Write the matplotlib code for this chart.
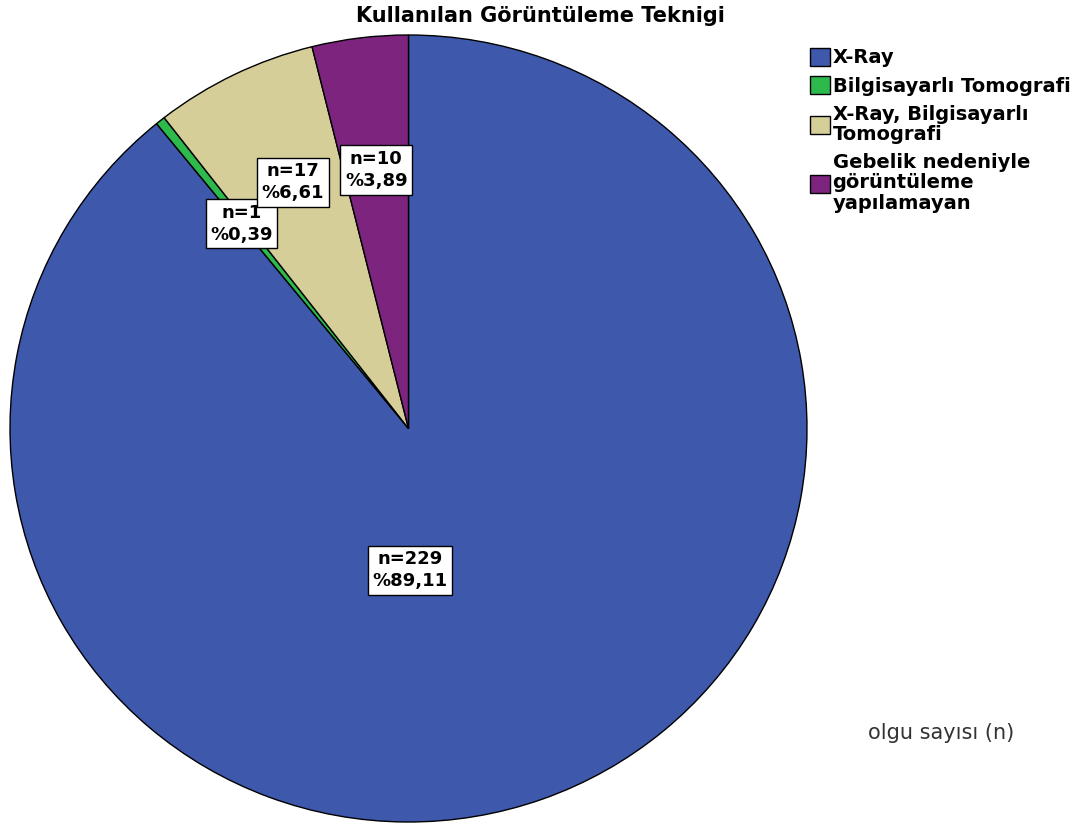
import matplotlib.pyplot as plt

plt.rcParams['font.family'] = ['DejaVu Sans']

# veri
kategoriler = ['X-Ray', 'Bilgisayarlı Tomografi', 'X-Ray, Bilgisayarlı\nTomografi',
               'Gebelik nedeniyle\ngörüntüleme\nyapılamayan']
sayilar = [229, 1, 17, 10]
yuzdeler = ['89,11', '0,39', '6,61', '3,89']
renkler = ['#3E58AC', '#2DB94B', '#D5CE98', '#7D247F']

# etiket kutularinin yeri (pasta koordinati)
etiket_yer = [(0.003, -0.36), (-0.419, 0.52), (-0.29, 0.626), (-0.081, 0.657)]

fig = plt.figure(figsize=(10.86, 8.27), dpi=100)
W, H = 1086, 827
x0, x1, y0, y1 = 10, 807, 35, 822   # pasta sinirlari (piksel)
ax = fig.add_axes([x0 / W, (H - y1) / H, (x1 - x0) / W, (y1 - y0) / H])

wedges, _ = ax.pie(sayilar, colors=renkler, startangle=90, counterclock=False,
                   radius=1, wedgeprops=dict(edgecolor='black', linewidth=1))
ax.set_xlim(-1.0, 1.0)
ax.set_ylim(-1.0, 1.0)
ax.set_aspect('auto')
ax.axis('off')

for (x, y), n, p in zip(etiket_yer, sayilar, yuzdeler):
    ax.text(x, y, 'n=%d\n%%%s' % (n, p), ha='center', va='center', fontsize=13,
            fontweight='bold', linespacing=1.3,
            bbox=dict(boxstyle='square,pad=0.25', fc='white', ec='black', lw=1))

fig.text(540 / W, 1 - 16 / H, 'Kullanılan Görüntüleme Teknigi', ha='center', va='center',
         fontsize=15, fontweight='bold')

leg = fig.legend(wedges, kategoriler, loc='upper left', bbox_to_anchor=(802 / W, 1 - 40 / H),
                 frameon=False, prop=dict(size=14, weight='bold'), handlelength=1.05,
                 handleheight=1.05, handletextpad=0.12, labelspacing=0.45, borderaxespad=0)
for t in leg.get_texts():
    t.set_linespacing(1.1)

fig.text(941 / W, 1 - 733 / H, 'olgu sayısı (n)', ha='center', va='center',
         fontsize=15, color='#333333')

plt.savefig('out.png', dpi=100)
